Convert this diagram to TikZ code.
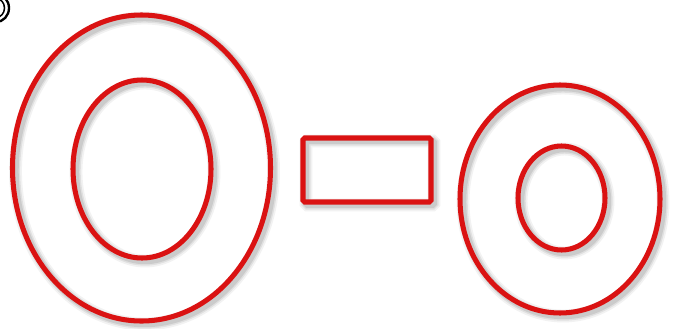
\documentclass[tikz,border=0pt]{standalone}
\usetikzlibrary{calc}
\definecolor{ringred}{RGB}{218,18,18}
\tikzset{
  ring/.style={draw=ringred, line width=4.3pt},
  shade1/.style={draw=black, opacity=0.05, line width=11pt},
  shade2/.style={draw=black, opacity=0.07, line width=8pt},
  shade3/.style={draw=black, opacity=0.09, line width=5.5pt},
}
\newcommand{\shadowpath}[2][]{%
  \begin{scope}[shift={(3,3)}]
    \path[shade1,#1] #2;
    \path[shade2,#1] #2;
    \path[shade3,#1] #2;
  \end{scope}
  \path[ring,#1] #2;
}
\begin{document}
\begin{tikzpicture}[x=0.03cm,y=-0.03cm]
  \fill[white] (0,0) rectangle (674,328);
  \useasboundingbox (0,0) rectangle (674,328);
  % cropped glyph at the top left
  \begin{scope}
    \clip (0,0) rectangle (12,26);
    \draw[black, line width=2pt] (-4,8) circle [x radius=13, y radius=14];
    \draw[black, line width=1.3pt] (-4,8) circle [x radius=8.5, y radius=9.5];
  \end{scope}
  % left large ring
  \shadowpath{(141.5,168) ellipse [x radius=129, y radius=153]}
  \shadowpath{(142,169) ellipse [x radius=69, y radius=89]}
  % middle bar
  \shadowpath[rounded corners=1.5pt]{(303,138) rectangle (431,202)}
  % right ring
  \shadowpath{(560,199) ellipse [x radius=100, y radius=114]}
  \shadowpath{(561.5,198) ellipse [x radius=43.5, y radius=52]}
\end{tikzpicture}
\end{document}
